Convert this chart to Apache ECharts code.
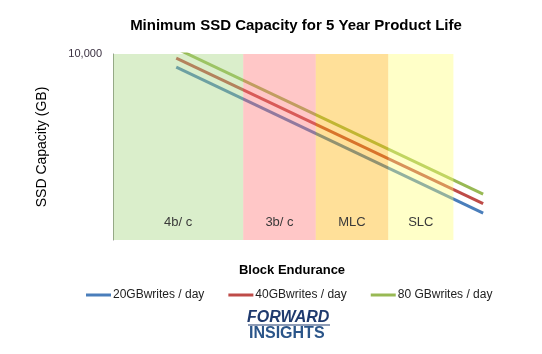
<!DOCTYPE html>
<html><head><meta charset="utf-8">
<script src="https://cdn.jsdelivr.net/npm/echarts@6/dist/echarts.min.js"></script>
<style>html,body{margin:0;padding:0;background:#fff}#c{width:542px;height:354px}</style>
</head><body><div id="c"></div>
<script>
// Data (x in arbitrary block-endurance units 0..100, y in GB on log scale)
const xPoints = [17, 99.5];
const s20 = [3800, 0.074];
const s40 = [7400, 0.15];
const s80 = [15000, 0.30];
const seriesNames = ['20GBwrites / day', '40GBwrites / day', '80 GBwrites / day'];
const bandNames = ['4b/ c', '3b/ c', 'MLC', 'SLC'];
const bandEdges = [0, 35, 54.5, 74, 91.5];
const yTickLabels = ['10,000'];

const bandColors = ['rgba(162,212,125,0.4)', 'rgba(255,115,115,0.4)', 'rgba(255,178,0,0.4)', 'rgba(255,255,118,0.4)'];
const lineColors = ['#4A7EBB', '#BE4B48', '#98B954'];
const font = 'Liberation Sans';

const mk = (vals) => xPoints.map((x, i) => [x, vals[i]]);
const bands = bandNames.map((n, i) => [
  { xAxis: bandEdges[i], yAxis: 0.01, name: n, itemStyle: { color: bandColors[i] } },
  { xAxis: bandEdges[i + 1], yAxis: 10000 }
]);

const chart = echarts.init(document.getElementById('c'));
chart.setOption({
  animation: false,
  title: {
    text: 'Minimum SSD Capacity for 5 Year Product Life',
    left: 291, top: 13, textAlign: 'center',
    textStyle: { fontFamily: font, fontSize: 15, fontWeight: 'bold', color: '#000' }
  },
  grid: { left: 113, top: 54, right: 57, bottom: 114 },
  legend: {
    left: 81, top: 284, itemWidth: 25, itemHeight: 3, itemGap: 24, icon: 'rect',
    textStyle: { fontFamily: font, fontSize: 12, color: '#222', padding: [0, 0, 0, -3] },
    data: seriesNames
  },
  xAxis: {
    type: 'value', min: 0, max: 100,
    axisLine: { show: false }, axisTick: { show: false }, axisLabel: { show: false }, splitLine: { show: false },
    name: 'Block Endurance', nameLocation: 'middle', nameGap: 24,
    nameTextStyle: { fontFamily: font, fontSize: 13, fontWeight: 'bold', color: '#000', padding: [0, 14, 0, 0] }
  },
  yAxis: {
    type: 'log', logBase: 10, min: 0.01, max: 10000,
    axisLine: { show: true, lineStyle: { color: '#8c8c8c', width: 1 } },
    axisTick: { show: false }, splitLine: { show: false },
    axisLabel: {
      fontFamily: font, fontSize: 11, color: '#3a3040', margin: 11,
      formatter: v => (v >= 9999 ? yTickLabels[0] : '')
    },
    name: 'SSD Capacity (GB)', nameLocation: 'middle', nameGap: 64, nameRotate: 90,
    nameTextStyle: { fontFamily: font, fontSize: 14, color: '#000' }
  },
  series: [
    ...[s20, s40, s80].map((s, i) => ({
      name: seriesNames[i], type: 'line', data: mk(s), symbol: 'none', z: 2,
      lineStyle: { width: 3, color: lineColors[i] }, itemStyle: { color: lineColors[i] }, clip: true
    })),
    {
      name: 'bands', type: 'line', data: [], z: 5, silent: true,
      markArea: {
        silent: true, z: 10,
        label: { show: true, position: 'insideBottom', distance: 11, fontFamily: font, fontSize: 13, color: '#3a3a3a' },
        data: bands
      }
    }
  ],
  graphic: [
    { type: 'text', left: 247, top: 310, style: { text: 'FORWARD', font: 'italic bold 16px "Liberation Sans"', fill: '#1f3a6e' } },
    { type: 'line', shape: { x1: 248, y1: 325, x2: 330, y2: 325 }, style: { stroke: '#1f3a6e', lineWidth: 1.2 } },
    { type: 'text', left: 249, top: 326, style: { text: 'INSIGHTS', font: 'bold 16px "Liberation Sans"', fill: '#2b5589' } }
  ]
});
</script></body></html>
